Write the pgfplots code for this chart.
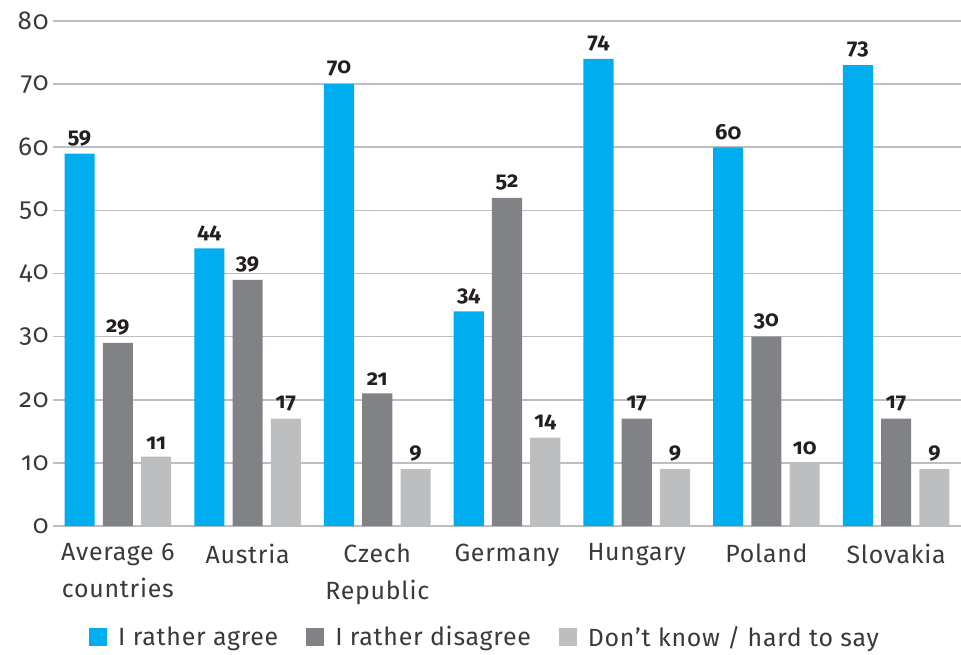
\documentclass[border=0pt]{standalone}
\usepackage{fontspec}
\setmainfont{Fira Sans}[Numbers=OldStyle, LetterSpace=3]
\newfontfamily\numfont{Fira Sans}[Numbers=OldStyle]
\usepackage{pgfplots}
\pgfplotsset{compat=1.18}
\definecolor{cblue}{HTML}{00AEEF}
\definecolor{cdark}{HTML}{808285}
\definecolor{clight}{HTML}{BCBEC0}
\definecolor{ctext}{HTML}{3A3A3A}
\definecolor{cnum}{HTML}{231F20}
\begin{document}
\begin{tikzpicture}
\begin{axis}[name=ax, scale only axis, width=908bp, height=505bp,
  xmin=-0.5, xmax=6.5, ymin=0, ymax=80,
  ybar, bar width=0.232,
  ytick={0,10,...,80}, ymajorgrids,
  grid style={clight, line width=1.6bp},
  axis line style={draw=none}, tick style={draw=none},
  /pgf/number format/assume math mode=true,
  yticklabel style={font=\fontsize{26}{28}\selectfont, text=ctext, xshift=-1bp},
  xtick={0,...,6},
  xticklabels={{Average 6\\[7bp]countries},Austria,{Czech\\[7bp]Republic},Germany,Hungary,Poland,Slovakia},
  xticklabel style={align=center, font=\fontsize{25}{30}\selectfont, text=ctext, yshift=-10bp},
  nodes near coords,
  every node near coord/.append style={font=\numfont\bfseries\fontsize{22}{22}\selectfont, text=cnum, anchor=south, yshift=4bp},
  legend columns=3,
  legend style={at={(0.5,-0.2198)}, anchor=center, xshift=-22bp, draw=none, font=\fontsize{25}{28}\selectfont, text=ctext,
    /tikz/every even column/.append style={column sep=26bp},
    /tikz/every odd column/.append style={column sep=9bp}},
  legend image code/.code={\fill[#1] (0bp,-9bp) rectangle (18bp,9bp);},
]
\addplot[fill=cblue, draw=none, bar shift=-0.295] coordinates {(0,59) (1,44) (2,70) (3,34) (4,74) (5,60) (6,73)};
\addplot[fill=cdark, draw=none, bar shift=0] coordinates {(0,29) (1,39) (2,21) (3,52) (4,17) (5,30) (6,17)};
\addplot[fill=clight, draw=none, bar shift=0.295] coordinates {(0,11) (1,17) (2,9) (3,14) (4,9) (5,10) (6,9)};
\legend{I rather agree, I rather disagree, Don't know / hard to say}
\end{axis}
\pgfresetboundingbox
\path (ax.south west) ++(-53bp,-129bp) rectangle ++(961bp,655bp);
\end{tikzpicture}
\end{document}
